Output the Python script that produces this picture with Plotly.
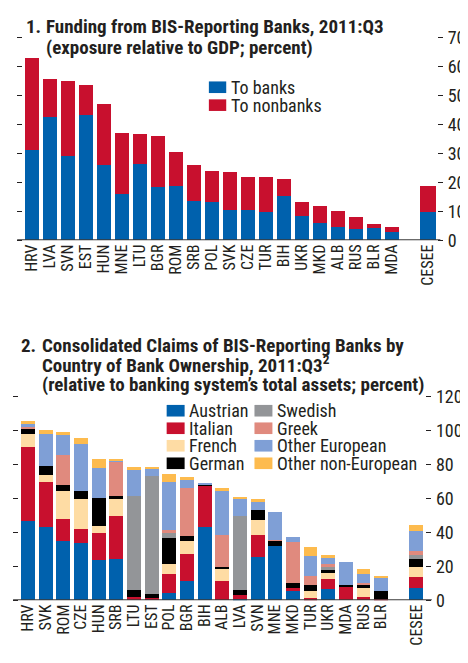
import plotly.graph_objects as go

# the page body adds an 8 px margin, so the figure is drawn 8 px smaller
# and every layout position below is measured from the window corner minus 8
OFF = 8
W, H = 468 - OFF, 663 - OFF
FONT = "Roboto Condensed, DejaVu Sans Condensed, sans-serif"
INK = "#231f20"

# ---- panel 1: funding from BIS-reporting banks (percent of GDP)
top_countries = ["HRV", "LVA", "SVN", "EST", "HUN", "MNE", "LTU", "BGR", "ROM", "SRB", "POL",
                 "SVK", "CZE", "TUR", "BIH", "UKR", "MKD", "ALB", "RUS", "BLR", "MDA", " ", "CESEE"]
to_banks = [31.2, 42.6, 29.0, 43.3, 25.9, 15.9, 26.4, 18.4, 18.6, 13.7, 13.3,
            10.4, 10.4, 9.9, 15.3, 8.4, 5.9, 4.6, 3.9, 4.3, 3.0, None, 9.9]
to_nonbanks = [31.5, 13.0, 26.1, 10.4, 21.1, 21.1, 10.2, 17.6, 12.0, 12.2, 10.6,
               13.2, 11.5, 12.0, 6.0, 4.9, 5.8, 5.6, 4.1, 1.3, 1.6, None, 8.7]
top_ticks = [0, 10, 20, 30, 40, 50, 60, 70]

# ---- panel 2: consolidated claims by country of bank ownership (percent of assets)
bot_countries = ["HRV", "SVK", "ROM", "CZE", "HUN", "SRB", "LTU", "EST", "POL", "BGR", "BIH",
                 "ALB", "LVA", "SVN", "MNE", "MKD", "TUR", "UKR", "MDA", "RUS", "BLR", " ", "CESEE"]
austrian = [46.7, 43.0, 35.0, 33.9, 23.6, 24.4, 0, 0, 4.0, 11.2, 43.2,
            0, 0.7, 25.5, 31.8, 5.5, 0, 6.7, 0, 0, 0, None, 7.2]
italian = [43.4, 26.5, 12.8, 8.2, 16.2, 25.1, 1.9, 1.3, 11.2, 16.0, 24.0,
           11.2, 2.5, 13.2, 0, 1.7, 1.1, 5.7, 7.8, 2.1, 1.0, None, 6.3]
french = [8.0, 4.6, 16.6, 17.7, 4.0, 10.3, 0, 0, 6.3, 8.0, 0,
          7.7, 0, 8.5, 0, 0, 4.4, 3.4, 0, 5.1, 0, None, 6.3]
german = [3.4, 5.1, 3.4, 4.6, 16.6, 1.7, 4.0, 2.5, 15.5, 2.9, 1.2,
          0.5, 2.9, 5.8, 3.4, 2.9, 3.5, 2.3, 1.2, 2.5, 4.5, None, 4.6]
swedish = [0, 0, 0, 0, 0, 0, 55.6, 69.2, 2.8, 0, 0,
           0, 43.4, 0, 0, 0, 0, 1.7, 0, 0, 0, None, 2.3]
greek = [0.4, 0, 17.7, 0, 0, 20.0, 0, 0, 1.9, 28.0, 0,
         19.3, 0, 0, 0.6, 24.0, 5.3, 1.7, 0, 0.4, 0, None, 2.3]
other_european = [1.9, 18.9, 12.0, 28.0, 17.7, 1.2, 15.5, 5.1, 27.8, 5.3, 0.6,
                  26.3, 10.9, 5.1, 16.0, 3.4, 11.8, 3.6, 13.7, 5.1, 8.0, None, 12.0]
other_non_european = [1.7, 2.3, 1.7, 3.4, 5.1, 0.5, 1.7, 0.6, 5.2, 1.0, 0,
                      1.1, 0.6, 1.7, 0, 0, 5.1, 1.6, 0, 3.5, 0.6, None, 3.4]
bot_ticks = [0, 20, 40, 60, 80, 100, 120]

BLUE = "#0061ad"
RED = "#c8102e"
top_series = [("To banks", to_banks, BLUE), ("To nonbanks", to_nonbanks, RED)]
bot_series = [("Austrian", austrian, BLUE), ("Italian", italian, RED),
              ("French", french, "#fedca4"), ("German", german, "#000000"),
              ("Swedish", swedish, "#939598"), ("Greek", greek, "#e08a7e"),
              ("Other European", other_european, "#7f9fd6"),
              ("Other non-European", other_non_european, "#fdbb4e")]


def px(x, y):
    return (x - OFF) / W, 1 - (y - OFF) / H


fig = go.Figure()
top_w = [0.78] * (len(top_countries) - 1) + [0.89]
for name, vals, col in top_series:
    fig.add_trace(go.Bar(x=top_countries, y=vals, name=name, marker_color=col,
                         marker_line_width=0, width=top_w, xaxis="x", yaxis="y",
                         showlegend=False))
for name, vals, col in bot_series:
    fig.add_trace(go.Bar(x=bot_countries, y=vals, name=name, marker_color=col,
                         marker_line_width=0, width=0.79, xaxis="x2", yaxis="y2",
                         showlegend=False))

xax = dict(type="category", tickangle=-90, ticks="", showgrid=False, zeroline=False,
           showline=False, tickfont=dict(family=FONT, size=16, color=INK), fixedrange=True,
           tickmode="array", range=[-0.5, 22.5])
yax = dict(side="right", showgrid=False, zeroline=False, showline=False, ticks="outside",
           ticklen=5, tickwidth=1.2, tickcolor=INK, mirror="ticks",
           tickfont=dict(family=FONT, size=18, color=INK), ticklabelstandoff=1)

x0, _ = px(22, 0)
x1, _ = px(437, 0)
x2, _ = px(18.2, 0)
x3, _ = px(425.2, 0)
_, ya0 = px(0, 236.7)
_, ya1 = px(0, 26.9)
_, yb0 = px(0, 608.5)
_, yb1 = px(0, 398.3)

fig.update_layout(
    width=W, height=H, margin=dict(l=0, r=0, t=0, b=0),
    paper_bgcolor="white", plot_bgcolor="white", barmode="stack",
    xaxis=dict(xax, domain=[x0, x1], tickvals=[c for c in top_countries if c.strip()],
               anchor="y"),
    yaxis=dict(yax, domain=[ya0, ya1], range=[0, 70], tickvals=top_ticks, anchor="x"),
    xaxis2=dict(xax, domain=[x2, x3], tickvals=[c for c in bot_countries if c.strip()],
                anchor="y2"),
    yaxis2=dict(yax, domain=[yb0, yb1], range=[0, 120], tickvals=bot_ticks, anchor="x2"),
)

# baselines running under the ticks on both sides
fig.add_shape(type="line", xref="x domain", yref="y", x0=-0.014, x1=1.008, y0=0, y1=0,
              line=dict(color="#3a3a3a", width=2))
fig.add_shape(type="line", xref="x2 domain", yref="y2", x0=-0.015, x1=1.016, y0=0, y1=0,
              line=dict(color="#3a3a3a", width=2))


def text(x, y, s, size, bold=False):
    fx, fy = px(x, y)
    fig.add_annotation(x=fx, y=fy, xref="paper", yref="paper", text=f"<b>{s}</b>" if bold else s,
                       showarrow=False, xanchor="left", yanchor="middle", borderpad=0,
                       font=dict(family=FONT, size=size, color=INK))


# titles
text(24, 15.5, "1.", 19, True)
text(44.5, 15.5, "Funding from BIS-Reporting Banks, 2011:Q3", 19, True)
text(44.5, 37, "(exposure relative to GDP; percent)", 19, True)
text(19.5, 345, "2.", 19, True)
text(40, 345, "Consolidated Claims of BIS-Reporting Banks by", 19, True)
text(40, 365, "Country of Bank Ownership, 2011:Q3<sup>2</sup>", 19, True)
text(40, 385.5, "(relative to banking system’s total assets; percent)", 19, True)


# legends drawn as swatches + labels
def swatch(x, y, w, col, label):
    sx0, sy0 = px(x, y - 6)
    sx1, sy1 = px(x + w, y + 6)
    fig.add_shape(type="rect", xref="paper", yref="paper", x0=sx0, x1=sx1, y0=sy0, y1=sy1,
                  fillcolor=col, line_width=0)
    text(x + w + 3.5, y, label, 18)


for i, (name, vals, col) in enumerate(top_series):
    swatch(208.3, 78.5 + 18.5 * i, 17.4, col, name)
for i, (name, vals, col) in enumerate(bot_series):
    c, r = divmod(i, 4)
    swatch(166 + 88 * c, 412.7 + 18.1 * r, 18, col, name)

fig.write_html("out.html")
